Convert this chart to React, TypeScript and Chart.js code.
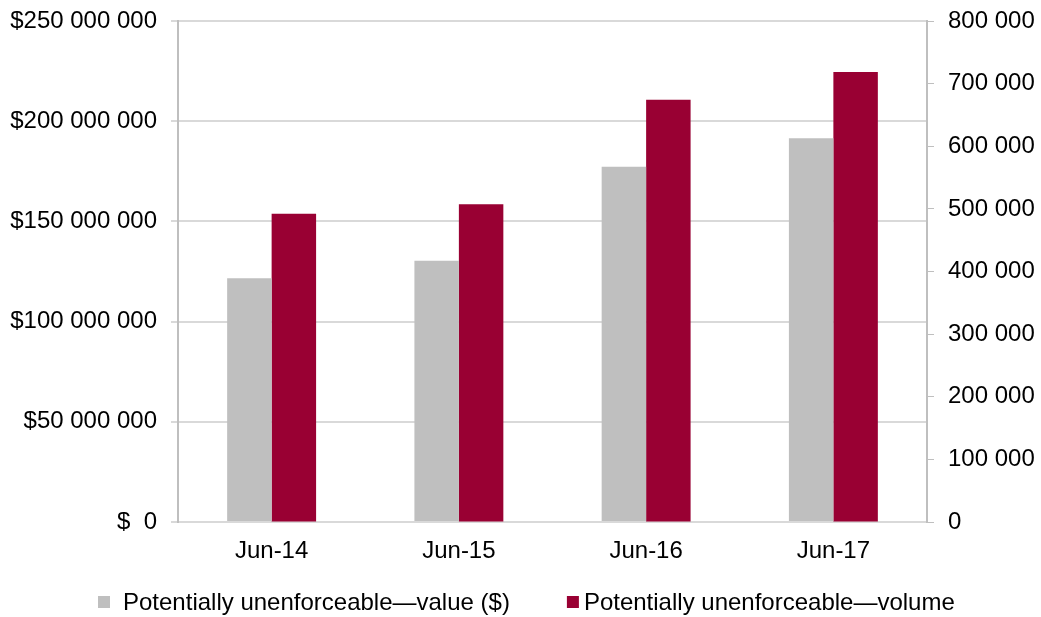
import React, { useEffect, useRef } from "react";
import { Chart, registerables } from "chart.js";

Chart.register(...registerables);

const categories = ["Jun-14", "Jun-15", "Jun-16", "Jun-17"];
const valueSeries = [121600000, 130400000, 177300000, 191500000];
const volumeSeries = [492300, 507300, 674300, 718600];
const valueLabel = "Potentially unenforceable\u2014value ($)";
const volumeLabel = "Potentially unenforceable\u2014volume";

const FONT = "'Liberation Sans', Arial, sans-serif";
const FS = 24;

function fmtSpace(n: number): string {
  return String(Math.round(n)).replace(/\B(?=(\d{3})+(?!\d))/g, " ");
}

const customLegend = {
  id: "customLegend",
  afterDraw(chart: any) {
    const ctx = chart.ctx;
    const ds = chart.data.datasets;
    ctx.save();
    ctx.font = `${FS}px ${FONT}`;
    ctx.textBaseline = "middle";
    const box = 12;
    const gapBoxText = [13, 5];
    const gapItems = 57;
    let x = 98;
    const y = 602;
    ds.forEach((d: any, i: number) => {
      ctx.fillStyle = d.backgroundColor;
      ctx.fillRect(x, y - box / 2, box, box);
      ctx.fillStyle = "#000";
      ctx.textAlign = "left";
      const tx = x + box + gapBoxText[i];
      ctx.fillText(d.label, tx, y + 1);
      x = tx + ctx.measureText(d.label).width + gapItems;
    });
    ctx.restore();
  },
};

export default function App() {
  const ref = useRef<HTMLCanvasElement | null>(null);
  useEffect(() => {
    if (!ref.current) return;
    const chart = new Chart(ref.current, {
      type: "bar",
      data: {
        labels: categories,
        datasets: [
          {
            label: valueLabel,
            data: valueSeries,
            backgroundColor: "#bfbfbf",
            yAxisID: "y",
            barPercentage: 1,
            categoryPercentage: 0.475,
          },
          {
            label: volumeLabel,
            data: volumeSeries,
            backgroundColor: "#990033",
            yAxisID: "y1",
            barPercentage: 1,
            categoryPercentage: 0.475,
          },
        ],
      },
      plugins: [customLegend],
      options: {
        responsive: false,
        animation: false,
        layout: { padding: { top: 21, bottom: 55 } },
        plugins: {
          tooltip: { enabled: false },
          legend: { display: false },
        },
        scales: {
          x: {
            afterFit: (s: any) => {
              s.height = 40;
            },
            grid: { display: false, drawTicks: false },
            border: { color: "#d9d9d9", width: 2 },
            ticks: { color: "#000", font: { family: FONT, size: FS }, padding: 15 },
          },
          y: {
            position: "left",
            min: 0,
            max: 250000000,
            afterFit: (s: any) => {
              s.width = 178;
              s.paddingTop = 0;
              s.paddingBottom = 0;
            },
            grid: {
              color: "#d9d9d9",
              lineWidth: 2,
              drawTicks: true,
              tickLength: 7,
              tickColor: "#d9d9d9",
            },
            border: { color: "#bfbfbf", width: 2 },
            ticks: {
              stepSize: 50000000,
              color: "#000",
              padding: 14,
              font: { family: FONT, size: FS },
              callback: (v: any) => (Number(v) === 0 ? "$  0" : "$" + fmtSpace(Number(v))),
            },
          },
          y1: {
            position: "right",
            min: 0,
            max: 800000,
            afterFit: (s: any) => {
              s.width = 114;
              s.paddingTop = 0;
              s.paddingBottom = 0;
            },
            grid: {
              drawOnChartArea: false,
              drawTicks: true,
              tickLength: 7,
              tickColor: "#bfbfbf",
            },
            border: { color: "#bfbfbf", width: 2 },
            ticks: {
              stepSize: 100000,
              color: "#000",
              padding: 14,
              font: { family: FONT, size: FS },
              callback: (v: any) => fmtSpace(Number(v)),
            },
          },
        },
      },
    });
    return () => chart.destroy();
  }, []);
  return (
    <div style={{ position: "fixed", left: 0, top: 0, width: 1041, height: 617, background: "#fff" }}>
      <canvas ref={ref} width={1041} height={617} style={{ display: "block" }} />
    </div>
  );
}
